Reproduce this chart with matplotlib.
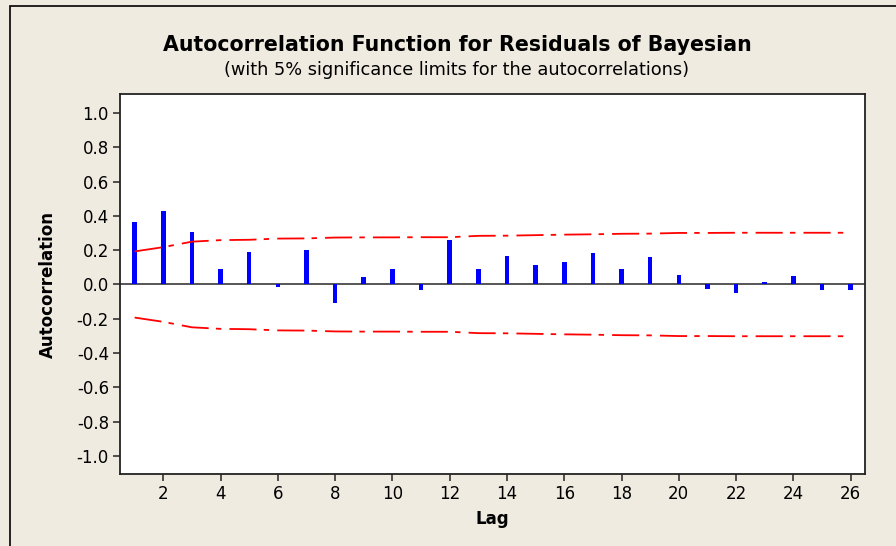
import matplotlib
matplotlib.use('Agg')
import matplotlib.pyplot as plt
from matplotlib.patches import Rectangle

plt.rcParams['font.family'] = ['DejaVu Sans']
plt.rcParams['axes.unicode_minus'] = False

lags = list(range(1, 27))
acf = [0.364, 0.431, 0.306, 0.090, 0.189, -0.012, 0.199, -0.109, 0.041, 0.090,
       -0.035, 0.257, 0.090, 0.164, 0.115, 0.133, 0.183, 0.090, 0.158, 0.057,
       -0.027, -0.051, 0.016, 0.049, -0.035, -0.035]
# 5% significance limits
limit = [0.193, 0.218, 0.250, 0.259, 0.261, 0.268, 0.269, 0.274, 0.275, 0.275,
         0.276, 0.276, 0.284, 0.285, 0.288, 0.291, 0.293, 0.296, 0.297, 0.301,
         0.301, 0.302, 0.302, 0.302, 0.302, 0.302]
yticks = [-1.0, -0.8, -0.6, -0.4, -0.2, 0.0, 0.2, 0.4, 0.6, 0.8, 1.0]
xticks = list(range(2, 27, 2))

bg = '#EFEBE1'
fig = plt.figure(figsize=(8.96, 5.46), dpi=100, facecolor=bg)
fig.patches.append(Rectangle((9.5 / 896, -0.1), 1.2, 1 - 6 / 546 + 0.1,
                             transform=fig.transFigure, fill=False,
                             edgecolor='black', linewidth=1.2))

ax = fig.add_axes([120 / 896, 1 - 474.3 / 546, (864.7 - 120) / 896, (474.3 - 94) / 546])
ax.set_facecolor('white')

ax.axhline(0, color='#555555', linewidth=1.4, zorder=1)
ax.bar(lags, acf, width=0.16, color='#0000FF', zorder=2)

dash = (0, (15, 4, 3, 4.5))
ax.plot(lags, limit, color='#FF0000', linewidth=1.3, linestyle=dash, zorder=3)
ax.plot(lags, [-v for v in limit], color='#FF0000', linewidth=1.3, linestyle=dash, zorder=3)

ax.set_xlim(0.49, 26.49)
ax.set_ylim(-1.108, 1.112)
ax.set_xticks(xticks)
ax.set_yticks(yticks)
ax.set_yticklabels(['%.1f' % v for v in yticks])
ax.tick_params(axis='both', labelsize=12, length=5, width=1.2, color='#333333', pad=3)
for s in ax.spines.values():
    s.set_linewidth(1.3)
    s.set_color('#222222')

ax.set_xlabel('Lag', fontsize=12, fontweight='bold', labelpad=5)
ax.set_ylabel('Autocorrelation', fontsize=12, fontweight='bold', labelpad=14)

fig.text(0.51, 1 - 45 / 546, 'Autocorrelation Function for Residuals of Bayesian',
         ha='center', va='center', fontsize=14.8, fontweight='bold')
fig.text(0.51, 1 - 70 / 546, '(with 5% significance limits for the autocorrelations)',
         ha='center', va='center', fontsize=12.8)

plt.savefig('out.png', dpi=100, facecolor=bg)
